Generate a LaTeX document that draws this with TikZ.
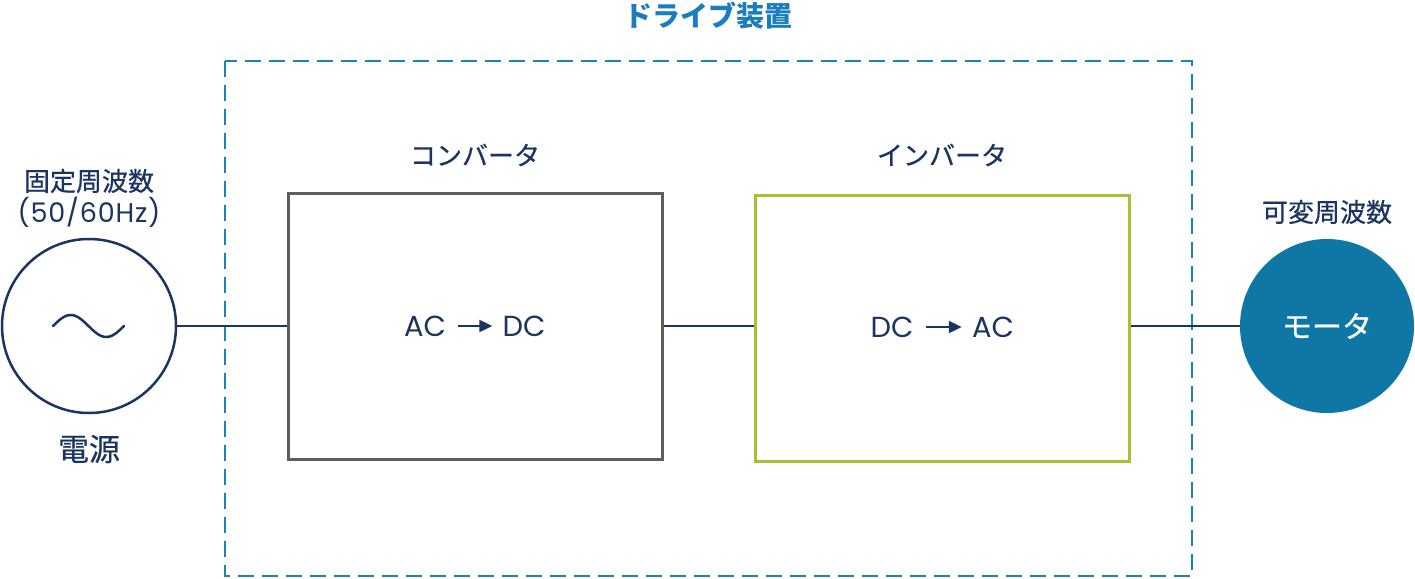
\documentclass[tikz,border=0pt]{standalone}
\usepackage{fontspec}
\usetikzlibrary{arrows.meta}
\newfontfamily\jp[FakeBold=0.6]{Noto Sans CJK JP}
\newfontfamily\jpt{Noto Sans CJK JP}
\newfontfamily\lat{Poppins}
\newfontfamily\latsp[LetterSpace=3]{Poppins}
\definecolor{navy}{HTML}{1B3461}
\definecolor{dashblue}{HTML}{1A84B8}
\definecolor{titleblue}{HTML}{1A7DC0}
\definecolor{boxgray}{HTML}{5E5E5E}
\definecolor{boxgreen}{HTML}{A6C232}
\definecolor{motorblue}{HTML}{0E77A6}
\tikzset{
  lbl/.style={inner sep=0pt, text=navy, font=\jp\fontsize{26}{30}\selectfont},
  bigl/.style={inner sep=0pt, text=navy, font=\lat\fontsize{29}{32}\selectfont},
  wire/.style={draw=navy, line width=2pt},
  flow/.style={draw=navy, line width=2pt, -{Triangle[length=13pt,width=12pt]}},
  blockbox/.style={draw, line width=3pt, minimum width=374pt, minimum height=266pt, inner sep=0pt},
}
\begin{document}
\begin{tikzpicture}[x=1pt,y=-1pt]
\useasboundingbox (0,0) rectangle (1415,578);
% drive enclosure
\draw[dashblue, line width=2pt, dash pattern=on 16pt off 8pt] (225,61) rectangle (1192,576);
\node[inner sep=0pt, text=titleblue, font=\jpt\bfseries\fontsize{28}{32}\selectfont] (title) at (708,16) {ドライブ装置};
% source
\node[circle, draw=navy, line width=2.5pt, minimum size=174pt, inner sep=0pt] (src) at (89,326) {};
\draw[navy, line width=2.5pt, line cap=round] plot[domain=0:360, samples=60, smooth] ({88.5+(\x-180)/360*71}, {326-11*sin(\x)});
\node[lbl] (srcl1) at (89,181) {固定周波数};
\node[inner sep=0pt, text=navy, font=\latsp\fontsize{27}{30}\selectfont] (srcl2) at (89,212) {(50/60Hz)};
\node[lbl, font=\jp\fontsize{31}{34}\selectfont] (srcl3) at (89,449) {電源};
% converter
\node[blockbox, draw=boxgray] (conv) at (475,326) {};
\node[lbl] (convl) at (475,155) {コンバータ};
\node[bigl] (ac1) at (425,326) {AC};
\node[bigl] (dc1) at (524,326) {DC};
\draw[flow] ([xshift=12pt]ac1.east) -- ([xshift=-10pt]dc1.west);
% inverter
\node[blockbox, draw=boxgreen] (inv) at (942,328) {};
\node[lbl] (invl) at (942,155) {インバータ};
\node[bigl] (dc2) at (892,327) {DC};
\node[bigl] (ac2) at (993,327) {AC};
\draw[flow] ([xshift=12pt]dc2.east) -- ([xshift=-10pt]ac2.west);
% motor
\node[circle, fill=motorblue, minimum size=174pt, inner sep=0pt, text=white, font=\jp\fontsize{30}{34}\selectfont] (motor) at (1327,326) {モータ};
\node[lbl] (motl) at (1327,212) {可変周波数};
% wires
\draw[wire] (src.east) -- (conv.west |- src.east);
\draw[wire] (conv.east |- src.east) -- (inv.west |- src.east);
\draw[wire] (inv.east |- src.east) -- (motor.west);
\end{tikzpicture}
\end{document}
